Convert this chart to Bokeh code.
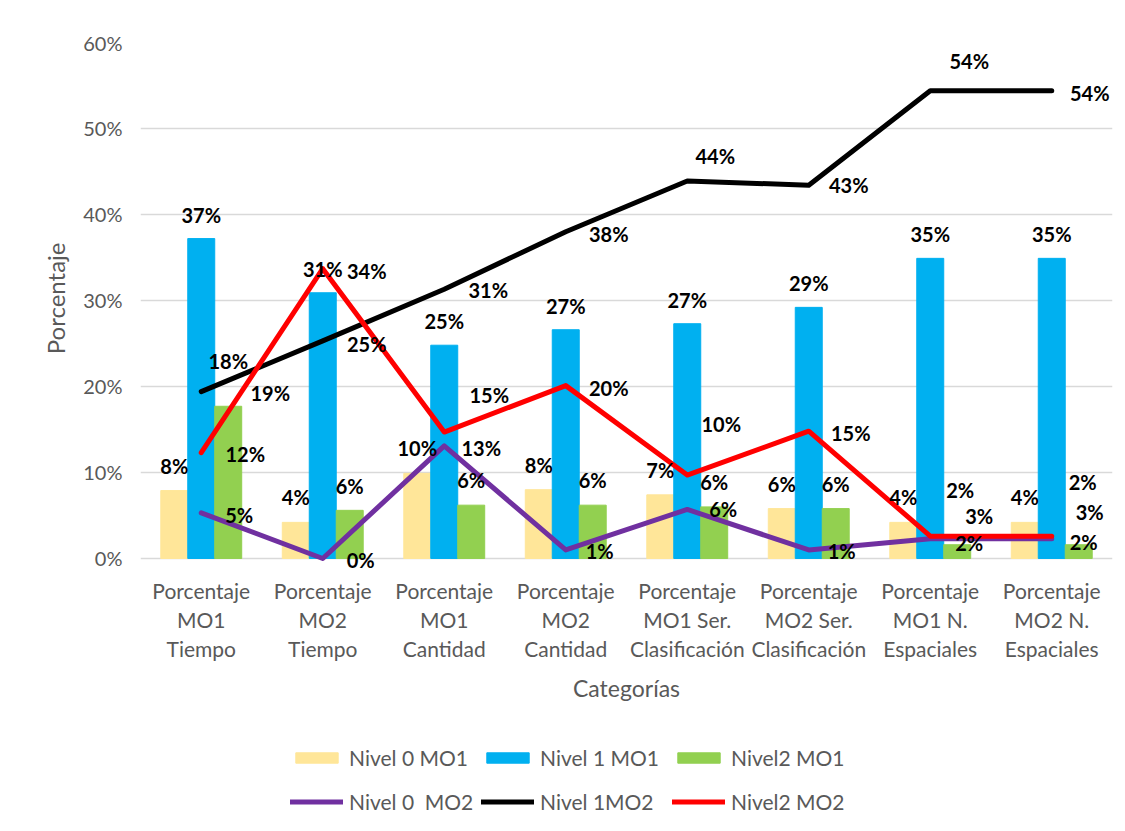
from bokeh.plotting import figure
from bokeh.models import (ColumnDataSource, FactorRange, NumeralTickFormatter, Legend, LegendItem,
                          FixedTicker, Range1d, Title)
from bokeh.transform import dodge
from bokeh.core.properties import value
from bokeh.embed import file_html
from bokeh.resources import INLINE

categories = [
    "Porcentaje\nMO1\nTiempo", "Porcentaje\nMO2\nTiempo",
    "Porcentaje\nMO1\nCantidad", "Porcentaje\nMO2\nCantidad",
    "Porcentaje\nMO1 Ser.\nClasificación", "Porcentaje\nMO2 Ser.\nClasificación",
    "Porcentaje\nMO1 N.\nEspaciales", "Porcentaje\nMO2 N.\nEspaciales",
]
nivel0_mo1 = [0.079, 0.042, 0.099, 0.080, 0.074, 0.058, 0.042, 0.042]
nivel1_mo1 = [0.372, 0.309, 0.248, 0.266, 0.273, 0.292, 0.349, 0.349]
nivel2_mo1 = [0.177, 0.056, 0.062, 0.062, 0.060, 0.058, 0.016, 0.016]
nivel0_mo2 = [0.053, 0.000, 0.131, 0.010, 0.057, 0.010, 0.023, 0.023]
nivel1_mo2 = [0.194, 0.253, 0.313, 0.380, 0.439, 0.434, 0.544, 0.544]
nivel2_mo2 = [0.123, 0.337, 0.147, 0.201, 0.097, 0.148, 0.026, 0.026]
y_ticks = [0.0, 0.1, 0.2, 0.3, 0.4, 0.5, 0.6]
x_title = "Categorías"
y_title = "Porcentaje"

# label offsets (screen pixels) -- styling only
off = {
    "a0": ([0] * 8, [-25] * 8),
    "a1": ([0] * 8, [-24] * 8),
    "a2": ([0, 0, 0, 0, 0, 0, 3, 4], [-45, -24, -25, -25, -25, -25, -55, -63]),
    "b0": ([38, 38, 37, 34, 36, 33, 39, 32], [2, 2, 2, 1, 0, 1, 4, 3]),
    "b1": ([69, 44, 44, 43, 28, 40, 39, 38], [1, 3, 1, 2, -25, 0, -30, 2]),
    "b2": ([44, 44, 45, 43, 34, 42, 49, 38], [1, 2, -37, 2, -51, 2, -20, -24]),
}
series = {"a0": nivel0_mo1, "a1": nivel1_mo1, "a2": nivel2_mo1,
          "b0": nivel0_mo2, "b1": nivel1_mo2, "b2": nivel2_mo2}

data = {"cat": categories, "zero": [0.0] * len(categories)}
for k, vals in series.items():
    data[k] = vals
    data[k + "_lbl"] = [f"{v:.0%}" for v in vals]
    data[k + "_dx"] = off[k][0]
    data[k + "_dy"] = off[k][1]
src = ColumnDataSource(data)

FONT = "Lato"
GREY = "#595959"

# frame spans 42..830 px; 0%..60% occupies 42..558 px, the rest holds category labels and legend
p = figure(x_range=FactorRange(*categories), y_range=Range1d(-0.3163, 0.6),
           width=1125, height=830, output_backend="svg", toolbar_location=None,
           x_axis_location=None,
           min_border_left=140, min_border_right=13, min_border_top=42, min_border_bottom=0)
p.outline_line_color = None
p.xgrid.grid_line_color = None
p.ygrid.grid_line_color = "#d9d9d9"
p.ygrid.grid_line_width = 1.5
p.yaxis.ticker = FixedTicker(ticks=y_ticks)
p.yaxis.formatter = NumeralTickFormatter(format="0%")
p.yaxis.axis_line_color = None
p.yaxis.major_tick_line_color = None
p.yaxis.minor_tick_line_color = None
p.yaxis.major_label_text_font = FONT
p.yaxis.major_label_text_font_size = "20px"
p.yaxis.major_label_text_color = GREY
p.yaxis.major_label_standoff = 12

ytitle = Title(text=y_title, align="right", offset=200, vertical_align="middle", standoff=20,
               text_font=FONT, text_font_size="24px", text_font_style="normal", text_color=GREY)
p.add_layout(ytitle, "left")

W = 0.222
r_a0 = p.vbar(x=dodge("cat", -W, range=p.x_range), top="a0", width=W, source=src, color="#FFE699")
r_a1 = p.vbar(x=dodge("cat", 0, range=p.x_range), top="a1", width=W, source=src, color="#00B0F0")
r_a2 = p.vbar(x=dodge("cat", W, range=p.x_range), top="a2", width=W, source=src, color="#92D050")
r_b0 = p.line(x="cat", y="b0", source=src, color="#7030A0", line_width=5, line_cap="round", line_join="round")
r_b1 = p.line(x="cat", y="b1", source=src, color="#000000", line_width=5, line_cap="round", line_join="round")
r_b2 = p.line(x="cat", y="b2", source=src, color="#FF0000", line_width=5, line_cap="round", line_join="round")

xpos = {"a0": dodge("cat", -W, range=p.x_range), "a1": dodge("cat", 0, range=p.x_range),
        "a2": dodge("cat", W, range=p.x_range), "b0": "cat", "b1": "cat", "b2": "cat"}
for k in ["a0", "a1", "a2", "b0", "b1", "b2"]:
    p.text(x=xpos[k], y=k, text=k + "_lbl", x_offset=k + "_dx", y_offset=k + "_dy", source=src,
           text_font=value(FONT), text_font_style="bold", text_font_size="20px",
           text_color="black", text_align="center", text_baseline="middle")

# category tick labels (multi-line) under the 0% line
p.text(x="cat", y="zero", text="cat", source=src, y_offset=20,
       text_font=value(FONT), text_font_size="21px", text_color=GREY,
       text_align="center", text_baseline="top", text_line_height=1.15)

# x-axis title centred between the 4th and 5th category
tsrc = ColumnDataSource(dict(cat=[categories[3]], zero=[0.0], t=[x_title]))
p.text(x=dodge("cat", 0.5, range=p.x_range), y="zero", text="t", source=tsrc, y_offset=130,
       text_font=value(FONT), text_font_size="23px", text_color=GREY,
       text_align="center", text_baseline="middle")

legend = Legend(items=[
    LegendItem(label="Nivel 0 MO1", renderers=[r_a0]),
    LegendItem(label="Nivel 1 MO1", renderers=[r_a1]),
    LegendItem(label="Nivel2 MO1", renderers=[r_a2]),
    LegendItem(label="Nivel 0  MO2", renderers=[r_b0]),
    LegendItem(label="Nivel 1MO2", renderers=[r_b1]),
    LegendItem(label="Nivel2 MO2", renderers=[r_b2]),
], location=(150, 10), orientation="horizontal", ncols=3)
legend.border_line_color = None
legend.background_fill_alpha = 0
legend.label_text_font = FONT
legend.label_text_font_size = "21px"
legend.label_text_color = GREY
legend.glyph_width = 53
legend.glyph_height = 13
legend.label_standoff = 6
legend.label_width = 125
legend.label_height = 37
legend.spacing = 7
legend.padding = 0
legend.margin = 0
p.add_layout(legend, "center")

open("out.html", "w").write(file_html(p, INLINE))
